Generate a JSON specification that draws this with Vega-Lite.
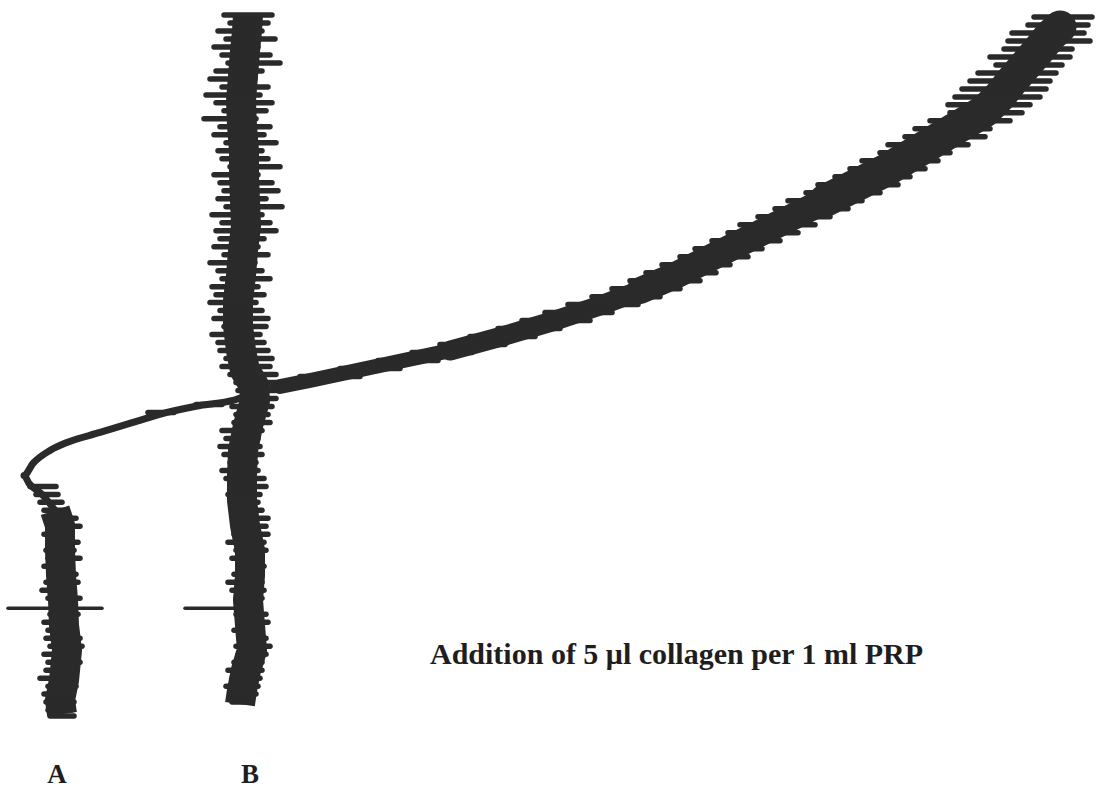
{
  "$schema": "https://vega.github.io/schema/vega-lite/v6.json",
  "width": 1106,
  "height": 792,
  "autosize": {"type": "fit", "contains": "padding"},
  "padding": 0,
  "background": "#ffffff",
  "config": {"view": {"stroke": null}},
  "datasets": {
    "core": [
      {"trace": "A", "part": "base", "order": 1, "x": 62, "y": 714},
      {"trace": "A", "part": "base", "order": 2, "x": 60, "y": 700},
      {"trace": "A", "part": "base", "order": 3, "x": 64, "y": 680},
      {"trace": "A", "part": "base", "order": 4, "x": 67, "y": 650},
      {"trace": "A", "part": "base", "order": 5, "x": 64, "y": 625},
      {"trace": "A", "part": "base", "order": 6, "x": 63, "y": 600},
      {"trace": "A", "part": "base", "order": 7, "x": 61, "y": 575},
      {"trace": "A", "part": "base", "order": 8, "x": 60, "y": 550},
      {"trace": "A", "part": "base", "order": 9, "x": 60, "y": 525},
      {"trace": "A", "part": "base", "order": 10, "x": 55, "y": 510},
      {"trace": "A", "part": "thin", "order": 11, "x": 55, "y": 510},
      {"trace": "A", "part": "thin", "order": 12, "x": 42, "y": 494},
      {"trace": "A", "part": "thin", "order": 13, "x": 29, "y": 483},
      {"trace": "A", "part": "thin", "order": 14, "x": 24, "y": 475},
      {"trace": "A", "part": "thin", "order": 15, "x": 33, "y": 463},
      {"trace": "A", "part": "thin", "order": 16, "x": 50, "y": 450},
      {"trace": "A", "part": "thin", "order": 17, "x": 67, "y": 442},
      {"trace": "A", "part": "thin", "order": 18, "x": 100, "y": 432},
      {"trace": "A", "part": "thin", "order": 19, "x": 133, "y": 422},
      {"trace": "A", "part": "thin", "order": 20, "x": 167, "y": 412},
      {"trace": "A", "part": "thin", "order": 21, "x": 200, "y": 405},
      {"trace": "A", "part": "thin", "order": 22, "x": 233, "y": 400},
      {"trace": "A", "part": "thin", "order": 23, "x": 255, "y": 392},
      {"trace": "A", "part": "thin", "order": 24, "x": 280, "y": 386},
      {"trace": "A", "part": "rise1", "order": 25, "x": 280, "y": 386},
      {"trace": "A", "part": "rise1", "order": 26, "x": 310, "y": 380},
      {"trace": "A", "part": "rise1", "order": 27, "x": 380, "y": 365},
      {"trace": "A", "part": "rise1", "order": 28, "x": 450, "y": 350},
      {"trace": "A", "part": "rise2", "order": 29, "x": 450, "y": 350},
      {"trace": "A", "part": "rise2", "order": 30, "x": 505, "y": 335},
      {"trace": "A", "part": "rise2", "order": 31, "x": 555, "y": 320},
      {"trace": "A", "part": "rise2", "order": 32, "x": 600, "y": 305},
      {"trace": "A", "part": "rise2", "order": 33, "x": 640, "y": 290},
      {"trace": "A", "part": "rise3", "order": 34, "x": 640, "y": 290},
      {"trace": "A", "part": "rise3", "order": 35, "x": 675, "y": 275},
      {"trace": "A", "part": "rise3", "order": 36, "x": 705, "y": 260},
      {"trace": "A", "part": "rise3", "order": 37, "x": 735, "y": 245},
      {"trace": "A", "part": "rise3", "order": 38, "x": 765, "y": 230},
      {"trace": "A", "part": "rise3", "order": 39, "x": 795, "y": 215},
      {"trace": "A", "part": "rise3", "order": 40, "x": 825, "y": 200},
      {"trace": "A", "part": "rise4", "order": 41, "x": 825, "y": 200},
      {"trace": "A", "part": "rise4", "order": 42, "x": 855, "y": 185},
      {"trace": "A", "part": "rise4", "order": 43, "x": 885, "y": 170},
      {"trace": "A", "part": "rise4", "order": 44, "x": 910, "y": 155},
      {"trace": "A", "part": "rise4", "order": 45, "x": 935, "y": 140},
      {"trace": "A", "part": "rise4", "order": 46, "x": 960, "y": 125},
      {"trace": "A", "part": "rise4", "order": 47, "x": 985, "y": 110},
      {"trace": "A", "part": "rise4", "order": 48, "x": 1000, "y": 95},
      {"trace": "A", "part": "rise4", "order": 49, "x": 1012, "y": 80},
      {"trace": "A", "part": "rise4", "order": 50, "x": 1025, "y": 65},
      {"trace": "A", "part": "rise4", "order": 51, "x": 1038, "y": 50},
      {"trace": "A", "part": "rise4", "order": 52, "x": 1050, "y": 35},
      {"trace": "A", "part": "rise4", "order": 53, "x": 1060, "y": 26},
      {"trace": "B", "part": "base", "order": 1, "x": 240, "y": 704},
      {"trace": "B", "part": "base", "order": 2, "x": 242, "y": 690},
      {"trace": "B", "part": "base", "order": 3, "x": 246, "y": 670},
      {"trace": "B", "part": "base", "order": 4, "x": 252, "y": 650},
      {"trace": "B", "part": "base", "order": 5, "x": 250, "y": 625},
      {"trace": "B", "part": "base", "order": 6, "x": 248, "y": 600},
      {"trace": "B", "part": "base", "order": 7, "x": 250, "y": 575},
      {"trace": "B", "part": "base", "order": 8, "x": 250, "y": 550},
      {"trace": "B", "part": "base", "order": 9, "x": 245, "y": 525},
      {"trace": "B", "part": "base", "order": 10, "x": 242, "y": 500},
      {"trace": "B", "part": "base", "order": 11, "x": 242, "y": 475},
      {"trace": "B", "part": "base", "order": 12, "x": 243, "y": 450},
      {"trace": "B", "part": "base", "order": 13, "x": 248, "y": 425},
      {"trace": "B", "part": "base", "order": 14, "x": 255, "y": 400},
      {"trace": "B", "part": "base", "order": 15, "x": 254, "y": 385},
      {"trace": "B", "part": "base", "order": 16, "x": 245, "y": 370},
      {"trace": "B", "part": "base", "order": 17, "x": 241, "y": 350},
      {"trace": "B", "part": "base", "order": 18, "x": 238, "y": 325},
      {"trace": "B", "part": "base", "order": 19, "x": 238, "y": 300},
      {"trace": "B", "part": "base", "order": 20, "x": 241, "y": 275},
      {"trace": "B", "part": "base", "order": 21, "x": 243, "y": 250},
      {"trace": "B", "part": "base", "order": 22, "x": 246, "y": 225},
      {"trace": "B", "part": "base", "order": 23, "x": 245, "y": 200},
      {"trace": "B", "part": "base", "order": 24, "x": 244, "y": 175},
      {"trace": "B", "part": "base", "order": 25, "x": 244, "y": 150},
      {"trace": "B", "part": "base", "order": 26, "x": 242, "y": 125},
      {"trace": "B", "part": "base", "order": 27, "x": 241, "y": 100},
      {"trace": "B", "part": "base", "order": 28, "x": 243, "y": 75},
      {"trace": "B", "part": "base", "order": 29, "x": 245, "y": 50},
      {"trace": "B", "part": "base", "order": 30, "x": 247, "y": 30},
      {"trace": "B", "part": "base", "order": 31, "x": 248, "y": 14}
    ],
    "spikes": [
      {"trace": "B", "y": 14, "l": 224, "r": 272},
      {"trace": "B", "y": 22, "l": 230, "r": 268},
      {"trace": "B", "y": 30, "l": 218, "r": 262},
      {"trace": "B", "y": 38, "l": 226, "r": 275},
      {"trace": "B", "y": 46, "l": 214, "r": 258},
      {"trace": "B", "y": 54, "l": 222, "r": 270},
      {"trace": "B", "y": 62, "l": 228, "r": 280},
      {"trace": "B", "y": 70, "l": 216, "r": 262},
      {"trace": "B", "y": 78, "l": 210, "r": 255},
      {"trace": "B", "y": 86, "l": 222, "r": 268},
      {"trace": "B", "y": 94, "l": 206, "r": 260},
      {"trace": "B", "y": 102, "l": 216, "r": 272},
      {"trace": "B", "y": 110, "l": 224, "r": 266},
      {"trace": "B", "y": 118, "l": 204, "r": 256},
      {"trace": "B", "y": 126, "l": 220, "r": 270},
      {"trace": "B", "y": 134, "l": 214, "r": 264},
      {"trace": "B", "y": 142, "l": 226, "r": 276},
      {"trace": "B", "y": 150, "l": 218, "r": 262},
      {"trace": "B", "y": 158, "l": 222, "r": 268},
      {"trace": "B", "y": 166, "l": 230, "r": 280},
      {"trace": "B", "y": 174, "l": 214, "r": 258},
      {"trace": "B", "y": 182, "l": 220, "r": 272},
      {"trace": "B", "y": 190, "l": 224, "r": 278},
      {"trace": "B", "y": 198, "l": 218, "r": 266},
      {"trace": "B", "y": 206, "l": 226, "r": 282},
      {"trace": "B", "y": 214, "l": 212, "r": 262},
      {"trace": "B", "y": 222, "l": 222, "r": 270},
      {"trace": "B", "y": 230, "l": 216, "r": 276},
      {"trace": "B", "y": 238, "l": 220, "r": 264},
      {"trace": "B", "y": 246, "l": 214, "r": 258},
      {"trace": "B", "y": 254, "l": 224, "r": 268},
      {"trace": "B", "y": 262, "l": 210, "r": 255},
      {"trace": "B", "y": 270, "l": 218, "r": 262},
      {"trace": "B", "y": 278, "l": 222, "r": 270},
      {"trace": "B", "y": 286, "l": 212, "r": 258},
      {"trace": "B", "y": 294, "l": 216, "r": 264},
      {"trace": "B", "y": 302, "l": 210, "r": 256},
      {"trace": "B", "y": 310, "l": 220, "r": 262},
      {"trace": "B", "y": 318, "l": 214, "r": 268},
      {"trace": "B", "y": 326, "l": 224, "r": 266},
      {"trace": "B", "y": 334, "l": 212, "r": 260},
      {"trace": "B", "y": 342, "l": 218, "r": 264},
      {"trace": "B", "y": 350, "l": 220, "r": 268},
      {"trace": "B", "y": 358, "l": 226, "r": 272},
      {"trace": "B", "y": 366, "l": 222, "r": 270},
      {"trace": "B", "y": 374, "l": 230, "r": 276},
      {"trace": "B", "y": 382, "l": 236, "r": 278},
      {"trace": "B", "y": 390, "l": 238, "r": 275},
      {"trace": "B", "y": 398, "l": 240, "r": 276},
      {"trace": "B", "y": 406, "l": 232, "r": 272},
      {"trace": "B", "y": 414, "l": 236, "r": 268},
      {"trace": "B", "y": 422, "l": 234, "r": 270},
      {"trace": "B", "y": 430, "l": 222, "r": 262},
      {"trace": "B", "y": 438, "l": 226, "r": 258},
      {"trace": "B", "y": 446, "l": 220, "r": 260},
      {"trace": "B", "y": 454, "l": 224, "r": 262},
      {"trace": "B", "y": 462, "l": 230, "r": 256},
      {"trace": "B", "y": 470, "l": 222, "r": 258},
      {"trace": "B", "y": 478, "l": 226, "r": 264},
      {"trace": "B", "y": 486, "l": 234, "r": 266},
      {"trace": "B", "y": 494, "l": 228, "r": 260},
      {"trace": "B", "y": 502, "l": 232, "r": 258},
      {"trace": "B", "y": 510, "l": 236, "r": 262},
      {"trace": "B", "y": 518, "l": 240, "r": 268},
      {"trace": "B", "y": 526, "l": 236, "r": 266},
      {"trace": "B", "y": 534, "l": 234, "r": 268},
      {"trace": "B", "y": 542, "l": 228, "r": 264},
      {"trace": "B", "y": 550, "l": 236, "r": 266},
      {"trace": "B", "y": 558, "l": 232, "r": 262},
      {"trace": "B", "y": 566, "l": 238, "r": 264},
      {"trace": "B", "y": 574, "l": 234, "r": 260},
      {"trace": "B", "y": 582, "l": 228, "r": 262},
      {"trace": "B", "y": 590, "l": 232, "r": 264},
      {"trace": "B", "y": 598, "l": 236, "r": 262},
      {"trace": "B", "y": 614, "l": 236, "r": 266},
      {"trace": "B", "y": 622, "l": 238, "r": 268},
      {"trace": "B", "y": 630, "l": 234, "r": 262},
      {"trace": "B", "y": 638, "l": 240, "r": 266},
      {"trace": "B", "y": 646, "l": 236, "r": 270},
      {"trace": "B", "y": 654, "l": 238, "r": 266},
      {"trace": "B", "y": 662, "l": 234, "r": 262},
      {"trace": "B", "y": 670, "l": 228, "r": 262},
      {"trace": "B", "y": 678, "l": 232, "r": 260},
      {"trace": "B", "y": 686, "l": 226, "r": 258},
      {"trace": "B", "y": 694, "l": 230, "r": 256},
      {"trace": "B", "y": 702, "l": 232, "r": 252},
      {"trace": "A", "y": 486, "l": 30, "r": 56},
      {"trace": "A", "y": 494, "l": 36, "r": 58},
      {"trace": "A", "y": 502, "l": 40, "r": 62},
      {"trace": "A", "y": 510, "l": 44, "r": 66},
      {"trace": "A", "y": 518, "l": 46, "r": 76},
      {"trace": "A", "y": 526, "l": 48, "r": 80},
      {"trace": "A", "y": 534, "l": 44, "r": 72},
      {"trace": "A", "y": 542, "l": 50, "r": 78},
      {"trace": "A", "y": 550, "l": 46, "r": 74},
      {"trace": "A", "y": 558, "l": 48, "r": 80},
      {"trace": "A", "y": 566, "l": 44, "r": 72},
      {"trace": "A", "y": 574, "l": 50, "r": 76},
      {"trace": "A", "y": 582, "l": 46, "r": 78},
      {"trace": "A", "y": 590, "l": 42, "r": 74},
      {"trace": "A", "y": 598, "l": 48, "r": 80},
      {"trace": "A", "y": 614, "l": 50, "r": 78},
      {"trace": "A", "y": 622, "l": 44, "r": 72},
      {"trace": "A", "y": 630, "l": 48, "r": 76},
      {"trace": "A", "y": 638, "l": 46, "r": 80},
      {"trace": "A", "y": 646, "l": 50, "r": 82},
      {"trace": "A", "y": 654, "l": 44, "r": 76},
      {"trace": "A", "y": 662, "l": 48, "r": 80},
      {"trace": "A", "y": 670, "l": 46, "r": 74},
      {"trace": "A", "y": 678, "l": 40, "r": 72},
      {"trace": "A", "y": 686, "l": 48, "r": 76},
      {"trace": "A", "y": 694, "l": 44, "r": 70},
      {"trace": "A", "y": 702, "l": 46, "r": 74},
      {"trace": "A", "y": 710, "l": 48, "r": 72},
      {"trace": "A", "y": 716, "l": 50, "r": 74},
      {"trace": "A", "y": 412, "l": 148, "r": 174},
      {"trace": "A", "y": 404, "l": 196, "r": 222},
      {"trace": "A", "y": 16, "l": 1034, "r": 1092},
      {"trace": "A", "y": 24, "l": 1028, "r": 1088},
      {"trace": "A", "y": 32, "l": 1012, "r": 1084},
      {"trace": "A", "y": 40, "l": 1008, "r": 1090},
      {"trace": "A", "y": 48, "l": 1004, "r": 1072},
      {"trace": "A", "y": 56, "l": 990, "r": 1070},
      {"trace": "A", "y": 64, "l": 996, "r": 1062},
      {"trace": "A", "y": 72, "l": 978, "r": 1056},
      {"trace": "A", "y": 80, "l": 970, "r": 1050},
      {"trace": "A", "y": 88, "l": 962, "r": 1046},
      {"trace": "A", "y": 96, "l": 955, "r": 1040},
      {"trace": "A", "y": 104, "l": 948, "r": 1030},
      {"trace": "A", "y": 112, "l": 950, "r": 1022},
      {"trace": "A", "y": 120, "l": 930, "r": 1010},
      {"trace": "A", "y": 128, "l": 915, "r": 990},
      {"trace": "A", "y": 136, "l": 905, "r": 985},
      {"trace": "A", "y": 144, "l": 888, "r": 968},
      {"trace": "A", "y": 152, "l": 880, "r": 950},
      {"trace": "A", "y": 160, "l": 862, "r": 938},
      {"trace": "A", "y": 168, "l": 850, "r": 925},
      {"trace": "A", "y": 176, "l": 835, "r": 910},
      {"trace": "A", "y": 184, "l": 818, "r": 898},
      {"trace": "A", "y": 192, "l": 806, "r": 880},
      {"trace": "A", "y": 200, "l": 788, "r": 862},
      {"trace": "A", "y": 208, "l": 775, "r": 848},
      {"trace": "A", "y": 216, "l": 758, "r": 830},
      {"trace": "A", "y": 224, "l": 740, "r": 815},
      {"trace": "A", "y": 232, "l": 728, "r": 798},
      {"trace": "A", "y": 240, "l": 712, "r": 780},
      {"trace": "A", "y": 248, "l": 695, "r": 762},
      {"trace": "A", "y": 256, "l": 680, "r": 748},
      {"trace": "A", "y": 264, "l": 662, "r": 730},
      {"trace": "A", "y": 272, "l": 646, "r": 716},
      {"trace": "A", "y": 280, "l": 630, "r": 700},
      {"trace": "A", "y": 288, "l": 612, "r": 680},
      {"trace": "A", "y": 296, "l": 592, "r": 660},
      {"trace": "A", "y": 304, "l": 568, "r": 638},
      {"trace": "A", "y": 312, "l": 545, "r": 612},
      {"trace": "A", "y": 320, "l": 522, "r": 590},
      {"trace": "A", "y": 328, "l": 498, "r": 560},
      {"trace": "A", "y": 336, "l": 470, "r": 535},
      {"trace": "A", "y": 344, "l": 440, "r": 505},
      {"trace": "A", "y": 352, "l": 412, "r": 472},
      {"trace": "A", "y": 360, "l": 378, "r": 438},
      {"trace": "A", "y": 368, "l": 340, "r": 400},
      {"trace": "A", "y": 376, "l": 300, "r": 360}
    ],
    "additions": [
      {"trace": "A", "y": 608, "l": 8, "r": 102},
      {"trace": "B", "y": 608, "l": 185, "r": 240}
    ],
    "labels": [
      {"text": "A", "x": 57, "y": 783},
      {"text": "B", "x": 250, "y": 783}
    ],
    "notes": [
      {"text": "Addition of 5 μl collagen per 1 ml PRP", "x": 430, "y": 664}
    ]
  },
  "layer": [
    {
      "data": {"name": "core"},
      "transform": [{"filter": "datum.part === 'base'"}],
      "mark": {"type": "line", "color": "#2a2a2a", "strokeWidth": 30, "strokeCap": "butt", "strokeJoin": "round"},
      "encoding": {
        "x": {"field": "x", "type": "quantitative", "scale": {"domain": [0, 1106], "nice": false, "zero": false}, "axis": null},
        "y": {"field": "y", "type": "quantitative", "scale": {"domain": [0, 792], "reverse": true, "nice": false, "zero": false}, "axis": null},
        "detail": {"field": "trace"},
        "order": {"field": "order"}
      }
    },
    {
      "data": {"name": "core"},
      "transform": [{"filter": "datum.part === 'thin'"}],
      "mark": {"type": "line", "color": "#2a2a2a", "strokeWidth": 7, "strokeCap": "round", "strokeJoin": "round", "interpolate": "monotone"},
      "encoding": {
        "x": {"field": "x", "type": "quantitative", "scale": {"domain": [0, 1106], "nice": false, "zero": false}, "axis": null},
        "y": {"field": "y", "type": "quantitative", "scale": {"domain": [0, 792], "reverse": true, "nice": false, "zero": false}, "axis": null},
        "order": {"field": "order"}
      }
    },
    {
      "data": {"name": "core"},
      "transform": [{"filter": "datum.part === 'rise1'"}],
      "mark": {"type": "line", "color": "#2a2a2a", "strokeWidth": 15, "strokeCap": "round", "strokeJoin": "round"},
      "encoding": {
        "x": {"field": "x", "type": "quantitative", "scale": {"domain": [0, 1106], "nice": false, "zero": false}, "axis": null},
        "y": {"field": "y", "type": "quantitative", "scale": {"domain": [0, 792], "reverse": true, "nice": false, "zero": false}, "axis": null},
        "order": {"field": "order"}
      }
    },
    {
      "data": {"name": "core"},
      "transform": [{"filter": "datum.part === 'rise2'"}],
      "mark": {"type": "line", "color": "#2a2a2a", "strokeWidth": 20, "strokeCap": "round", "strokeJoin": "round"},
      "encoding": {
        "x": {"field": "x", "type": "quantitative", "scale": {"domain": [0, 1106], "nice": false, "zero": false}, "axis": null},
        "y": {"field": "y", "type": "quantitative", "scale": {"domain": [0, 792], "reverse": true, "nice": false, "zero": false}, "axis": null},
        "order": {"field": "order"}
      }
    },
    {
      "data": {"name": "core"},
      "transform": [{"filter": "datum.part === 'rise3'"}],
      "mark": {"type": "line", "color": "#2a2a2a", "strokeWidth": 27, "strokeCap": "round", "strokeJoin": "round"},
      "encoding": {
        "x": {"field": "x", "type": "quantitative", "scale": {"domain": [0, 1106], "nice": false, "zero": false}, "axis": null},
        "y": {"field": "y", "type": "quantitative", "scale": {"domain": [0, 792], "reverse": true, "nice": false, "zero": false}, "axis": null},
        "order": {"field": "order"}
      }
    },
    {
      "data": {"name": "core"},
      "transform": [{"filter": "datum.part === 'rise4'"}],
      "mark": {"type": "line", "color": "#2a2a2a", "strokeWidth": 33, "strokeCap": "round", "strokeJoin": "round"},
      "encoding": {
        "x": {"field": "x", "type": "quantitative", "scale": {"domain": [0, 1106], "nice": false, "zero": false}, "axis": null},
        "y": {"field": "y", "type": "quantitative", "scale": {"domain": [0, 792], "reverse": true, "nice": false, "zero": false}, "axis": null},
        "order": {"field": "order"}
      }
    },
    {
      "data": {"name": "spikes"},
      "mark": {"type": "rule", "color": "#2a2a2a", "strokeWidth": 5.5, "strokeCap": "round"},
      "encoding": {
        "x": {"field": "l", "type": "quantitative", "scale": {"domain": [0, 1106], "nice": false, "zero": false}, "axis": null},
        "x2": {"field": "r"},
        "y": {"field": "y", "type": "quantitative", "scale": {"domain": [0, 792], "reverse": true, "nice": false, "zero": false}, "axis": null}
      }
    },
    {
      "data": {"name": "additions"},
      "mark": {"type": "rule", "color": "#2a2a2a", "strokeWidth": 3.5, "strokeCap": "round"},
      "encoding": {
        "x": {"field": "l", "type": "quantitative", "scale": {"domain": [0, 1106], "nice": false, "zero": false}, "axis": null},
        "x2": {"field": "r"},
        "y": {"field": "y", "type": "quantitative", "scale": {"domain": [0, 792], "reverse": true, "nice": false, "zero": false}, "axis": null}
      }
    },
    {
      "data": {"name": "labels"},
      "mark": {"type": "text", "font": "Liberation Serif", "fontWeight": "bold", "fontSize": 27, "color": "#1e1e1e", "align": "center", "baseline": "alphabetic"},
      "encoding": {
        "x": {"field": "x", "type": "quantitative", "scale": {"domain": [0, 1106], "nice": false, "zero": false}, "axis": null},
        "y": {"field": "y", "type": "quantitative", "scale": {"domain": [0, 792], "reverse": true, "nice": false, "zero": false}, "axis": null},
        "text": {"field": "text"}
      }
    },
    {
      "data": {"name": "notes"},
      "mark": {"type": "text", "font": "Liberation Serif", "fontWeight": "bold", "fontSize": 30, "color": "#1e1e1e", "align": "left", "baseline": "alphabetic"},
      "encoding": {
        "x": {"field": "x", "type": "quantitative", "scale": {"domain": [0, 1106], "nice": false, "zero": false}, "axis": null},
        "y": {"field": "y", "type": "quantitative", "scale": {"domain": [0, 792], "reverse": true, "nice": false, "zero": false}, "axis": null},
        "text": {"field": "text"}
      }
    }
  ]
}
